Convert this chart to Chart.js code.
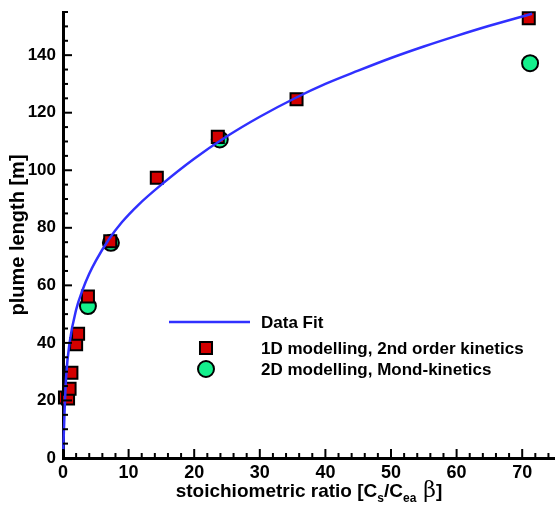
<!DOCTYPE html>
<html>
<head>
<meta charset="utf-8">
<script src="https://cdn.jsdelivr.net/npm/chart.js@4.4.1/dist/chart.umd.min.js"></script>
<style>
  html, body { margin: 0; padding: 0; background: #fff; }
  #wrap { width: 555px; height: 507px; }
</style>
</head>
<body>
<div id="wrap"><canvas id="myChart" width="555" height="507"></canvas></div>
<script>
// values
const fitX = [0.05, 0.1, 0.25, 0.5, 1, 2, 3, 4, 5, 7, 9, 11.5, 15, 20, 25, 30, 35.5, 40, 45, 50, 55, 60, 65, 71.5];
const fitY = [3, 7, 17, 29, 40, 51.5, 58.5, 64, 68.5, 76, 82, 88, 95, 104, 111.8, 118.6, 125.2, 130, 134.6, 139, 143, 146.7, 150.2, 154.4];

const oneDX = [0.3, 0.77, 1.0, 1.28, 2.0, 2.3, 3.8, 7.2, 14.3, 23.6, 35.6, 71.0];
const oneDY = [21, 20.7, 24.1, 29.6, 39.5, 43.2, 56.1, 75.3, 97.4, 111.6, 124.7, 152.8];

const twoDX = [3.8, 7.3, 23.9, 71.2];
const twoDY = [52.8, 74.8, 110.7, 137.2];

const xTicks = [0, 10, 20, 30, 40, 50, 60, 70];
const yTicks = [0, 20, 40, 60, 80, 100, 120, 140];

const FONT = '"Liberation Sans", Arial, sans-serif';

function pairs(xs, ys) {
    return xs.map((x, i) => ({x: x, y: ys[i]}));
}

// inward tick marks, drawn through the chart's own scales
const insideTicks = {
    id: 'insideTicks',
    afterDatasetsDraw(chart) {
        const ctx = chart.ctx;
        const xs = chart.scales.x, ys = chart.scales.y;
        const left = chart.chartArea.left, bottom = chart.chartArea.bottom;
        ctx.save();
        ctx.strokeStyle = '#000';
        ctx.lineWidth = 2;
        for (let v = 0; v <= 75; v += 2) {
            const px = xs.getPixelForValue(v);
            const len = (v % 10 === 0) ? 9 : 5;
            ctx.beginPath();
            ctx.moveTo(px, bottom);
            ctx.lineTo(px, bottom - len);
            ctx.stroke();
        }
        for (let v = 0; v <= 155; v += 5) {
            const py = ys.getPixelForValue(v);
            const len = (v % 20 === 0) ? 9 : 5;
            ctx.beginPath();
            ctx.moveTo(left, py);
            ctx.lineTo(left + len, py);
            ctx.stroke();
        }
        ctx.restore();
    }
};

// x title with subscripts
const xTitle = {
    id: 'xTitle',
    afterDraw(chart) {
        const ctx = chart.ctx;
        const area = chart.chartArea;
        const parts = [
            {t: 'stoichiometric ratio [C', f: 'bold 19px ' + FONT, dy: 0},
            {t: 's', f: 'bold 12px ' + FONT, dy: 5},
            {t: '/C', f: 'bold 19px ' + FONT, dy: 0},
            {t: 'ea', f: 'bold 12px ' + FONT, dy: 5},
            {t: ' \u03B2', f: '22px "DejaVu Serif", serif', dy: 0},
            {t: ']', f: 'bold 19px ' + FONT, dy: 0}
        ];
        ctx.save();
        ctx.fillStyle = '#000';
        ctx.textBaseline = 'alphabetic';
        let total = 0;
        parts.forEach(p => { ctx.font = p.f; total += ctx.measureText(p.t).width; });
        let x = (area.left + area.right) / 2 - total / 2;
        const base = 497;
        parts.forEach(p => {
            ctx.font = p.f;
            ctx.fillText(p.t, x, base + p.dy);
            x += ctx.measureText(p.t).width;
        });
        ctx.restore();
    }
};

// legend inside the plot
const plotLegend = {
    id: 'plotLegend',
    afterDraw(chart) {
        const ctx = chart.ctx;
        const ds = chart.data.datasets;
        const rows = [322, 348, 369];
        ctx.save();
        ctx.font = 'bold 17px ' + FONT;
        ctx.textBaseline = 'middle';
        ds.forEach((d, i) => {
            const y = rows[i];
            if (d.showLine) {
                ctx.strokeStyle = d.borderColor;
                ctx.lineWidth = d.borderWidth;
                ctx.beginPath();
                ctx.moveTo(169, y);
                ctx.lineTo(250, y);
                ctx.stroke();
            } else {
                ctx.fillStyle = d.backgroundColor;
                ctx.strokeStyle = d.borderColor;
                ctx.lineWidth = d.borderWidth;
                ctx.beginPath();
                if (d.pointStyle === 'rect') {
                    const s = Math.SQRT1_2 * d.pointRadius;
                    ctx.rect(206 - s, y - s, 2 * s, 2 * s);
                } else {
                    ctx.arc(206, y, d.pointRadius, 0, Math.PI * 2);
                }
                ctx.fill();
                ctx.stroke();
            }
            ctx.fillStyle = '#000';
            ctx.fillText(d.label, 261, y + 1);
        });
        ctx.restore();
    }
};

const ctx = document.getElementById('myChart').getContext('2d');
const myChart = new Chart(ctx, {
    type: 'scatter',
    data: {
        datasets: [{
            label: 'Data Fit',
            data: pairs(fitX, fitY),
            showLine: true,
            borderColor: '#3030ff',
            borderWidth: 2.5,
            pointRadius: 0,
            cubicInterpolationMode: 'monotone',
            fill: false,
            clip: false
        }, {
            label: '1D modelling, 2nd order kinetics',
            data: pairs(oneDX, oneDY),
            pointStyle: 'rect',
            pointRadius: 8.5,
            backgroundColor: '#d40000',
            borderColor: '#000',
            borderWidth: 2,
            clip: false
        }, {
            label: '2D modelling, Mond-kinetics',
            data: pairs(twoDX, twoDY),
            pointStyle: 'circle',
            pointRadius: 8,
            backgroundColor: '#14f08c',
            borderColor: '#000',
            borderWidth: 2,
            clip: false
        }]
    },
    options: {
        responsive: false,
        animation: false,
        layout: { autoPadding: false, padding: { top: 12, right: 0, left: 0, bottom: 0 } },
        plugins: {
            legend: { display: false },
            tooltip: { enabled: false }
        },
        scales: {
            x: {
                type: 'linear',
                min: 0,
                max: 75,
                afterFit(scale) {
                    scale.height = 49;
                    scale.paddingRight = 0;
                    scale.paddingLeft = 0;
                },
                afterBuildTicks(scale) { scale.ticks = xTicks.map(v => ({value: v})); },
                grid: { display: false },
                border: { display: true, color: '#000', width: 3 },
                ticks: {
                    color: '#000',
                    padding: -4,
                    maxRotation: 0,
                    autoSkip: false,
                    font: { family: FONT, size: 18, weight: 'bold' }
                }
            },
            y: {
                type: 'linear',
                min: 0,
                max: 155,
                afterFit(scale) {
                    scale.width = 63;
                    scale.paddingTop = 0;
                    scale.paddingBottom = 0;
                },
                afterBuildTicks(scale) { scale.ticks = yTicks.map(v => ({value: v})); },
                grid: { display: false },
                border: { display: true, color: '#000', width: 3 },
                ticks: {
                    color: '#000',
                    padding: -1,
                    autoSkip: false,
                    font: { family: FONT, size: 17, weight: 'bold' }
                },
                title: {
                    display: true,
                    text: 'plume length [m]',
                    color: '#000',
                    padding: { top: 6, bottom: 0 },
                    font: { family: FONT, size: 20, weight: 'bold' }
                }
            }
        }
    },
    plugins: [insideTicks, xTitle, plotLegend]
});
</script>
</body>
</html>
